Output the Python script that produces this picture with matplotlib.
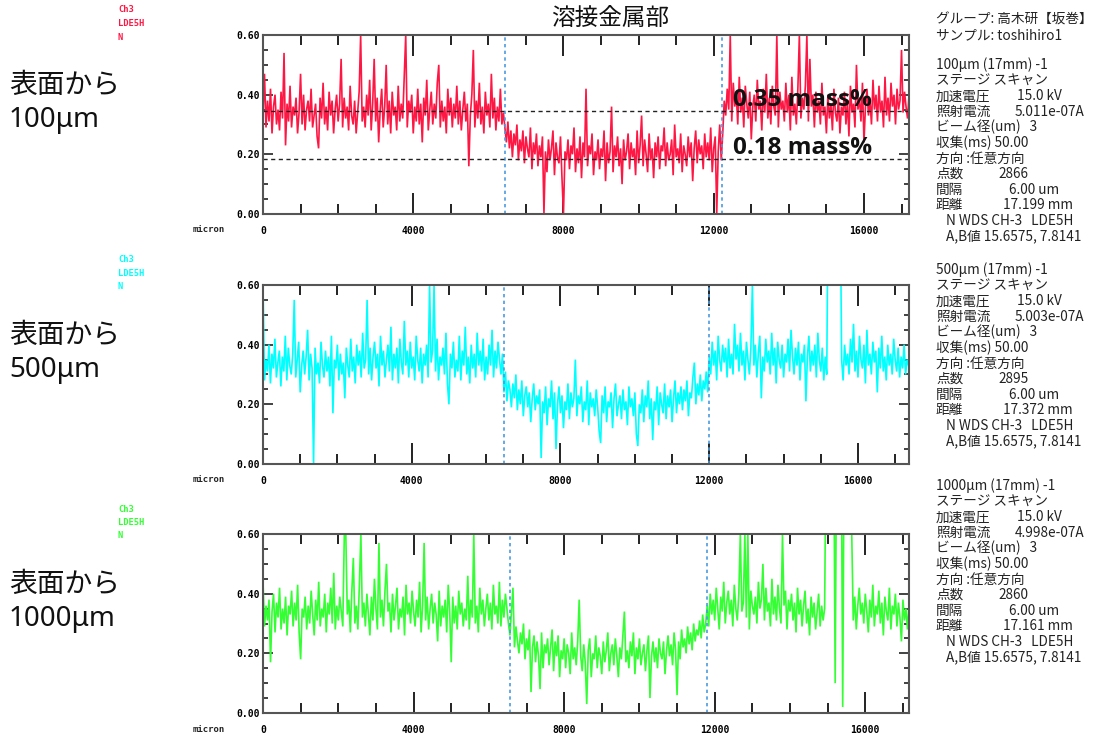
import numpy as np
import matplotlib
matplotlib.use('Agg')
import matplotlib.pyplot as plt
from matplotlib.ticker import MultipleLocator, FormatStrFormatter

plt.rcParams['font.family'] = ['Noto Sans CJK JP', 'DejaVu Sans']

# ---------------- data (N, mass%) ----------------
step_um = 40  # spacing of the values below along the scan (micron)

red_n = [
    .33, .47, .29, .38, .31, .42, .27, .36, .40, .30,
    .35, .28, .41, .32, .54, .23, .37, .31, .43, .29,
    .36, .33, .39, .27, .34, .47, .30, .40, .28, .35,
    .38, .31, .42, .29, .33, .37, .26, .22, .39, .32,
    .44, .30, .36, .28, .41, .33, .38, .27, .35, .40,
    .31, .37, .52, .29, .39, .32, .36, .28, .43, .33,
    .30, .38, .27, .34, .41, .60, .31, .36, .29, .40,
    .33, .45, .28, .37, .52, .31, .39, .24, .35, .42,
    .29, .36, .50, .30, .38, .27, .41, .33, .36, .28,
    .43, .31, .37, .32, .46, .60, .29, .38, .34, .40,
    .27, .36, .31, .42, .30, .37, .24, .39, .33, .45,
    .28, .35, .41, .30, .37, .32, .44, .50, .29, .38,
    .31, .36, .27, .42, .33, .39, .29, .37, .32, .43,
    .30, .38, .28, .35, .41, .31, .37, .16, .33, .40,
    .55, .29, .38, .32, .44, .30, .36, .27, .41, .33,
    .37, .29, .47, .32, .39, .28, .36, .31, .42, .30,
    .34, .29,
    .24, .31, .22, .28, .19, .27, .23, .30, .18, .25,
    .21, .28, .17, .26, .22, .19, .29, .15, .24, .20,
    .27, .16, .23, .19, .26, .00, .21, .14, .25, .18,
    .22, .28, .13, .24, .19, .17, .26, .12, .00, .21,
    .18, .25, .15, .23, .20, .29, .14, .22, .17, .26,
    .12, .24, .19, .42, .16, .23, .20, .27, .13, .21,
    .18, .25, .15, .22, .19, .28, .11, .24, .17, .21,
    .36, .14, .23, .19, .26, .16, .22, .10, .25, .18,
    .21, .27, .15, .24, .19, .22, .13, .28, .17, .23,
    .33, .16, .25, .20, .14, .27, .18, .22, .12, .24,
    .19, .26, .15, .23, .21, .29, .16, .24, .18, .20,
    .25, .13, .30, .19, .22, .17, .27, .14, .23, .20,
    .16, .26, .19, .24, .11, .22, .28, .17, .25, .20,
    .23, .15, .27, .19, .24, .18, .29, .14, .22, .26,
    .00, .21, .30, .18, .27,
    .38, .33, .42, .35, .60, .31, .44, .36, .40, .30,
    .46, .34, .39, .29, .43, .37, .32, .41, .25, .36,
    .40, .31, .45, .35, .38, .28, .42, .34, .47, .32,
    .39, .30, .43, .36, .33, .60, .29, .41, .35, .38,
    .31, .44, .34, .40, .28, .46, .33, .37, .30, .42,
    .60, .32, .39, .35, .43, .60, .31, .52, .36, .40,
    .29, .41, .34, .38, .30, .44, .33, .36, .27, .40,
    .32, .37, .28, .42, .34, .31, .39, .27, .36, .33,
    .41, .30, .38, .26, .43, .34, .37, .29, .50, .35,
    .39, .31, .44, .24, .36, .42, .33, .38, .30, .45,
    .35, .40, .31, .43, .34, .38, .29, .46, .33, .39,
    .31, .44, .36, .40, .30, .42, .35, .38, .55, .34,
    .41, .36, .32, .40,
]

cyan_n = [
    .60, .28, .35, .31, .40, .27, .37, .32, .42, .29,
    .34, .38, .26, .36, .31, .43, .28, .39, .33, .30,
    .37, .55, .29, .35, .41, .24, .33, .38, .30, .36,
    .45, .28, .37, .32, .00, .39, .30, .34, .27, .41,
    .33, .29, .38, .31, .36, .26, .43, .17, .35, .32,
    .40, .28, .37, .30, .34, .22, .39, .33, .29, .42,
    .31, .36, .27, .40, .33, .38, .29, .44, .32, .35,
    .55, .30, .39, .28, .36, .41, .32, .37, .26, .43,
    .33, .38, .29, .35, .40, .31, .46, .28, .37, .32,
    .39, .27, .42, .34, .30, .48, .33, .38, .29, .41,
    .32, .36, .28, .43, .35, .31, .39, .27, .37, .33,
    .40, .29, .60, .34, .38, .60, .31, .42, .28, .36,
    .33, .39, .30, .44, .27, .20, .37, .32, .41, .29,
    .35, .31, .43, .28, .38, .33, .46, .30, .36, .27,
    .40, .32, .37, .29, .44, .33, .38, .31, .42, .28,
    .36, .30, .40, .33, .45, .29, .38, .32, .41, .35,
    .30, .37,
    .24, .31, .21, .28, .25, .19, .27, .22, .30, .18,
    .25, .20, .28, .16, .23, .26, .19, .24, .14, .22,
    .27, .18, .23, .20, .25, .02, .21, .17, .26, .13,
    .22, .19, .28, .15, .24, .05, .20, .26, .17, .23,
    .12, .21, .18, .27, .15, .24, .19, .22, .35, .16,
    .23, .20, .26, .14, .21, .18, .28, .13, .24, .19,
    .22, .16, .25, .19, .11, .07, .23, .17, .26, .14,
    .21, .19, .24, .12, .22, .27, .16, .20, .23, .15,
    .25, .18, .21, .13, .26, .19, .22, .16, .24, .10,
    .06, .20, .17, .25, .14, .23, .19, .28, .15, .22,
    .08, .21, .18, .26, .13, .24, .20, .17, .27, .15,
    .23, .19, .25, .14, .22, .28, .17, .24, .20, .26,
    .18, .25, .21, .28, .16, .24, .22, .29, .34, .20,
    .27, .23, .30, .21, .28, .25, .31, .24,
    .36, .30, .41, .33, .38, .28, .43, .35, .31, .40,
    .34, .39, .29, .42, .32, .37, .30, .47, .35, .40,
    .31, .44, .33, .38, .28, .41, .35, .30, .39, .60,
    .33, .40, .29, .37, .43, .22, .36, .31, .42, .34,
    .38, .30, .44, .33, .39, .27, .41, .35, .32, .40,
    .29, .37, .34, .42, .31, .45, .36, .30, .39, .33,
    .41, .28, .37, .34, .40, .21, .36, .43, .31, .38,
    .33, .40, .29, .44, .35, .31, .39, .28, .36, .30,
    .95, .95, .95, .95, .95, .95, .95, .95, .95,
    .35, .28, .40, .33, .37, .30, .42, .34, .47, .31,
    .38, .29, .43, .35, .32, .40, .27, .45, .33, .37,
    .30, .41, .34, .38, .24, .39, .32, .43, .31, .36,
    .28, .40, .33, .37, .30, .42, .35, .31, .39, .29,
    .36, .32, .40, .30, .35, .33,
]

green_n = [
    .44, .29, .36, .31, .38, .17, .34, .40, .27, .37,
    .32, .42, .28, .35, .30, .39, .26, .36, .33, .41,
    .29, .37, .31, .43, .27, .18, .35, .32, .39, .28,
    .36, .30, .41, .33, .26, .38, .31, .44, .29, .35,
    .32, .40, .27, .37, .33, .42, .30, .47, .28, .36,
    .31, .39, .34, .29, .60, .60, .33, .38, .27, .41,
    .52, .30, .36, .28, .43, .60, .32, .37, .29, .40,
    .33, .26, .39, .31, .45, .35, .28, .57, .32, .38,
    .29, .41, .50, .34, .37, .27, .40, .31, .36, .42,
    .28, .35, .32, .39, .26, .43, .33, .37, .30, .41,
    .34, .29, .38, .32, .44, .27, .36, .57, .31, .39,
    .28, .35, .40, .30, .37, .33, .24, .41, .29, .36,
    .32, .38, .27, .43, .34, .17, .39, .30, .36, .28,
    .41, .33, .37, .29, .35, .31, .46, .28, .38, .32,
    .60, .30, .36, .27, .42, .33, .38, .29, .35, .40,
    .31, .37, .28, .43, .33, .36, .30, .44, .29, .38,
    .32, .40, .35, .30,
    .26, .34, .42, .22, .29, .24,
    .20, .27, .23, .30, .18, .25, .21, .28, .07, .22,
    .26, .17, .24, .19, .08, .27, .15, .23, .20, .25,
    .16, .22, .28, .14, .24, .19, .26, .12, .21, .18,
    .25, .15, .23, .20, .13, .27, .18, .22, .16, .24,
    .38, .19, .14, .23, .17, .03, .21, .25, .12, .20,
    .18, .26, .15, .22, .19, .13, .24, .17, .21, .27,
    .14, .20, .23, .16, .25, .19, .12, .22, .18, .26,
    .34, .17, .21, .15, .24, .19, .27, .13, .22, .18,
    .25, .16, .20, .23, .14, .21, .26, .05, .19, .24,
    .17, .22, .15, .25, .20, .18, .24, .13, .21, .26,
    .19, .23, .16, .27, .21, .06, .24, .18, .28, .22,
    .25, .20, .29, .23, .27, .21, .30, .24, .28, .26,
    .31, .25, .33, .27, .30,
    .36, .29, .40, .33, .38,
    .31, .42, .35, .28, .39, .34, .44, .30, .37, .41,
    .33, .38, .29, .43, .35, .31, .40, .60, .34, .37,
    .60, .32, .60, .28, .41, .36, .33, .39, .30, .44,
    .35, .38, .50, .31, .42, .34, .37, .29, .45, .33,
    .39, .31, .43, .35, .30, .60, .36, .41, .28, .38,
    .34, .40, .31, .37, .27, .42, .33, .38, .29, .36,
    .41, .30, .35, .26, .39, .32, .37, .28, .34, .40,
    .29, .36, .31, .35,
    .95, .95, .95, .95, .95, .95, .10, .95, .95, .95, .95, .02,
    .95, .95, .95, .95, .95,
    .60, .31, .39, .28, .36, .42, .33, .37, .30,
    .40, .34, .27, .38, .32, .43, .29, .36, .33, .41,
    .30, .37, .26, .39, .34, .31, .42, .28, .36, .33,
    .40, .29, .37, .32, .24, .38, .31, .35, .28, .36,
]

series = [red_n, cyan_n, green_n]
series_colors = ['#ff1744', '#00ffff', '#33ff33']
scan_lengths = [17199, 17372, 17161]          # micron (距離)
weld_start = [6430, 6480, 6560]               # micron
weld_end = [12220, 11985, 11790]              # micron
ref_levels = [0.345, 0.185]
ref_labels = ['0.35 mass%', '0.18 mass%']
depth_labels = ['100μm', '500μm', '1000μm']
channel_lines = ['Ch3', 'LDE5H', 'N']
beam_currents = ['5.011e-07A', '5.003e-07A', '4.998e-07A']
point_counts = ['2866', '2895', '2860']
distances = ['17.199 mm', '17.372 mm', '17.161 mm']

# ---------------- layout (pixels) ----------------
W, H = 1096, 735
fig = plt.figure(figsize=(W / 100, H / 100), dpi=100)


def fx(x):
    return x / W


def fy(y):
    return 1 - y / H


panel_tops = [35, 285, 534]
panel_h = 179
ax_left, ax_right = 263, 909

mono = 'DejaVu Sans Mono'

for i, vals in enumerate(series):
    top = panel_tops[i]
    ax = fig.add_axes([fx(ax_left), fy(top + panel_h), (ax_right - ax_left) / W, panel_h / H])
    x = np.arange(len(vals)) * step_um
    ax.plot(x, vals, color=series_colors[i], lw=1.2, solid_joinstyle='miter')
    ax.set_xlim(0, scan_lengths[i])
    ax.set_ylim(0, 0.6)
    ax.axvline(weld_start[i], color='#4a9be0', lw=1.2, ls=(0, (2, 2)))
    ax.axvline(weld_end[i], color='#4a9be0', lw=1.2, ls=(0, (2, 2)))
    if i == 0:
        for lv in ref_levels:
            ax.axhline(lv, color='#222222', lw=1.0, ls=(0, (3, 2.5)))
        ax.text(12513, 0.382, ref_labels[0], fontsize=17.5, fontweight='bold',
                family=['Open Sans', 'DejaVu Sans'], va='center', ha='left', color='#111111')
        ax.text(12513, 0.221, ref_labels[1], fontsize=17.5, fontweight='bold',
                family=['Open Sans', 'DejaVu Sans'], va='center', ha='left', color='#111111')

    ax.xaxis.set_major_locator(MultipleLocator(4000))
    ax.xaxis.set_minor_locator(MultipleLocator(1000))
    ax.yaxis.set_major_locator(MultipleLocator(0.2))
    ax.yaxis.set_minor_locator(MultipleLocator(0.05))
    ax.yaxis.set_major_formatter(FormatStrFormatter('%.2f'))
    ax.xaxis.set_major_formatter(FormatStrFormatter('%d'))
    ax.tick_params(axis='x', which='major', direction='in', length=15, width=1.4,
                   top=True, bottom=True, pad=8.5, labelsize=7, color='#222222')
    ax.tick_params(axis='x', which='minor', direction='in', length=7.5, width=1.4,
                   top=True, bottom=True, color='#222222')
    ax.tick_params(axis='y', which='major', direction='in', length=7, width=1.2,
                   left=True, right=True, pad=2, labelsize=7, color='#222222')
    ax.tick_params(axis='y', which='minor', direction='in', length=3.5, width=1.2,
                   left=True, right=True, color='#222222')
    for lbl in ax.get_xticklabels() + ax.get_yticklabels():
        lbl.set_fontfamily(mono)
        lbl.set_fontweight('bold')
    for sp in ax.spines.values():
        sp.set_color('#555555')
        sp.set_linewidth(1.5)

    # "micron" unit label
    fig.text(fx(193), fy(top + panel_h + 16), 'micron', fontsize=6.5, family=mono,
             fontweight='bold', va='center', ha='left', color='#222222')
    # channel labels
    for k, s in enumerate(channel_lines):
        fig.text(fx(118), fy(top - 25 + 13.5 * k), s, fontsize=6.3, family=mono,
                 fontweight='bold', va='center', ha='left', color=series_colors[i])
    # big left labels
    fig.text(fx(9), fy(top + 50), '表面から', fontsize=20, va='center', ha='left', color='#111111')
    fig.text(fx(9), fy(top + 85), depth_labels[i], fontsize=20, va='center', ha='left',
             color='#111111', family=['Noto Sans', 'DejaVu Sans'])

# title
fig.text(fx(610), fy(18), '溶接金属部', fontsize=17, va='center', ha='center', color='#111111')

# right-hand info blocks
tx = 936
tc = '#222222'
fs = 9.8
fig.text(fx(tx), fy(20), 'グループ: 高木研【坂巻】', fontsize=fs, va='center', ha='left', color=tc)
fig.text(fx(tx), fy(35), 'サンプル: toshihiro1', fontsize=fs, va='center', ha='left', color=tc)

block_starts = [65, 270, 486]
lh = 15.6
for i in range(3):
    y0 = block_starts[i]
    rows = [
        (tx, depth_labels[i] + ' (17mm) -1'),
        (tx, 'ステージ スキャン'),
        (tx, '加速電圧'), (tx, '照射電流'),
        (tx, 'ビーム径(um)   3'),
        (tx, '収集(ms) 50.00'),
        (tx, '方向 :任意方向'),
        (tx, '点数'), (tx, '間隔'), (tx, '距離'),
        (tx + 10, 'N WDS CH-3   LDE5H'),
        (tx + 10, 'A,B値 15.6575, 7.8141'),
    ]
    for r, (xx, s) in enumerate(rows):
        fig.text(fx(xx), fy(y0 + lh * r), s, fontsize=fs, va='center', ha='left', color=tc)
    values = [(1017, 2, '15.0 kV'), (1015, 3, beam_currents[i]), (998, 7, point_counts[i]),
              (1009, 8, '6.00 um'), (1003, 9, distances[i])]
    for xx, r, s in values:
        fig.text(fx(xx), fy(y0 + lh * r), s, fontsize=fs, va='center', ha='left', color=tc)

fig.savefig('out.png', dpi=100)
